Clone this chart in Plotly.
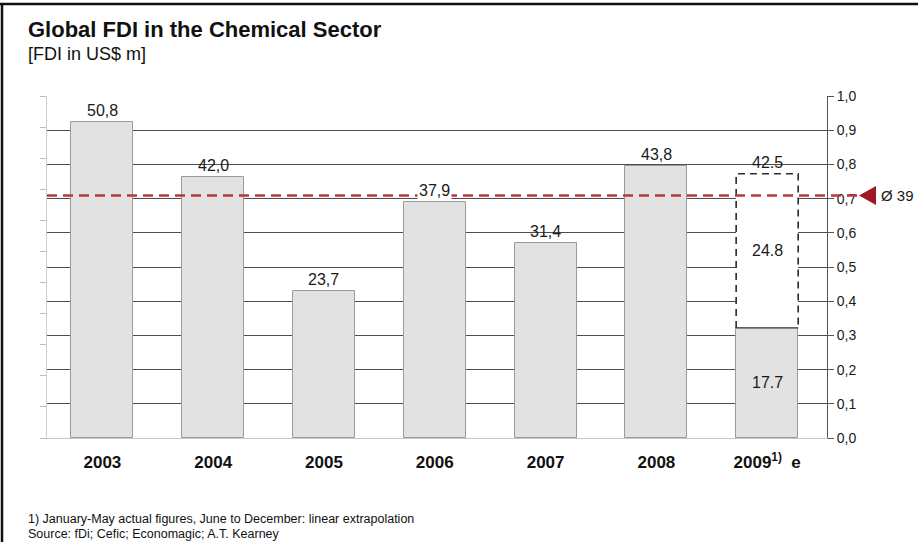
import plotly.graph_objects as go

# ---- data -------------------------------------------------------------
YEARS = ["2003", "2004", "2005", "2006", "2007", "2008", "2009"]
YEAR_LABELS = ["<b>2003</b>", "<b>2004</b>", "<b>2005</b>", "<b>2006</b>",
               "<b>2007</b>", "<b>2008</b>", "<b>2009<sup>1)</sup>  e</b>"]
FDI_ACTUAL = [50.8, 42.0, 23.7, 37.9, 31.4, 43.8, 17.7]
FDI_TEXT = ["50,8", "42,0", "23,7", "37,9", "31,4", "43,8", "17.7"]
EXTRAPOLATED_2009 = 24.8
TOTAL_2009 = 42.5
TOTAL_2009_TEXT = "42.5"
EXTRAPOLATED_2009_TEXT = "24.8"
AVERAGE = 39
AVERAGE_TEXT = "Ø 39"
SCALE_MAX = 55.0
RIGHT_TICKS = [0.0, 0.1, 0.2, 0.3, 0.4, 0.5, 0.6, 0.7, 0.8, 0.9, 1.0]
RIGHT_TICK_TEXT = ["0,0", "0,1", "0,2", "0,3", "0,4", "0,5",
                   "0,6", "0,7", "0,8", "0,9", "1,0"]

# ---- layout geometry (pixels) ----------------------------------------
W, H = 918, 542
PL, PR, PT, PB = 47, 827, 96, 438
BAR_W = 0.56
FONT = "Liberation Sans, Arial, sans-serif"


def px_x(p):
    return (p - PL) / (PR - PL)


def px_y(p):
    return (PB - p) / (PB - PT)


fig = go.Figure()

# actual values
fig.add_trace(go.Bar(
    x=YEARS, y=FDI_ACTUAL, width=BAR_W,
    marker=dict(color="#e2e2e2", line=dict(color="#9a9a9a", width=1)),
    hoverinfo="skip", showlegend=False, yaxis="y",
))
# extrapolated part of 2009 (white fill, dashed outline drawn as a shape)
fig.add_trace(go.Bar(
    x=[YEARS[-1]], y=[EXTRAPOLATED_2009], base=[FDI_ACTUAL[-1]], width=BAR_W,
    marker=dict(color="white", line=dict(width=0)),
    hoverinfo="skip", showlegend=False, yaxis="y",
))
# carrier trace for the left tick axis
fig.add_trace(go.Scatter(
    x=YEARS, y=FDI_ACTUAL, mode="none", hoverinfo="skip",
    showlegend=False, yaxis="y2",
))

shapes = []
i9 = len(YEARS) - 1
# dashed outline of extrapolated segment
shapes.append(dict(
    type="path", xref="x", yref="y", layer="above",
    path=(f"M {i9 - BAR_W / 2} {FDI_ACTUAL[-1]} L {i9 - BAR_W / 2} {TOTAL_2009} "
          f"L {i9 + BAR_W / 2} {TOTAL_2009} L {i9 + BAR_W / 2} {FDI_ACTUAL[-1]}"),
    line=dict(color="#2b2b2b", width=1.6, dash="7px,5px"),
))
shapes.append(dict(
    type="line", xref="x", yref="y", layer="above",
    x0=i9 - BAR_W / 2, x1=i9 + BAR_W / 2, y0=FDI_ACTUAL[-1], y1=FDI_ACTUAL[-1],
    line=dict(color="#2b2b2b", width=1.3),
))
# average line and marker
shapes.append(dict(
    type="line", xref="paper", yref="y", layer="above",
    x0=0, x1=px_x(858), y0=AVERAGE, y1=AVERAGE,
    line=dict(color="#b8393b", width=2.5, dash="10px,6px"),
))
half_h = 9.5 / (PB - PT) * SCALE_MAX
shapes.append(dict(
    type="path", xref="paper", yref="y", layer="above",
    path=(f"M {px_x(859)} {AVERAGE} L {px_x(876)} {AVERAGE + half_h} "
          f"L {px_x(876)} {AVERAGE - half_h} Z"),
    fillcolor="#9e1a22", line=dict(width=0),
))
# page frame (top and left edges)
shapes.append(dict(type="line", xref="paper", yref="paper",
                   x0=px_x(0), x1=px_x(W), y0=px_y(4), y1=px_y(4),
                   line=dict(color="#111", width=2.5)))
shapes.append(dict(type="line", xref="paper", yref="paper",
                   x0=px_x(2), x1=px_x(2), y0=px_y(4), y1=px_y(H),
                   line=dict(color="#111", width=2.5)))

annotations = []
VAL_FONT = dict(size=16, color="#1a1a1a", family=FONT)
# value labels above bars (category positions given by index)
for i, (v, t) in enumerate(zip(FDI_ACTUAL[:-1], FDI_TEXT[:-1])):
    ann = dict(x=i, y=v, xref="x", yref="y", text=t, showarrow=False,
               yanchor="bottom", yshift=1, font=VAL_FONT)
    if abs(v - AVERAGE) < 3:
        ann["bgcolor"] = "white"
    annotations.append(ann)
annotations.append(dict(
    x=i9, y=TOTAL_2009, xref="x", yref="y", text=TOTAL_2009_TEXT,
    showarrow=False, yanchor="bottom", yshift=1, font=VAL_FONT,
))
annotations.append(dict(
    x=i9, y=FDI_ACTUAL[-1] + EXTRAPOLATED_2009 / 2, xref="x", yref="y",
    text=EXTRAPOLATED_2009_TEXT, showarrow=False, yanchor="middle", font=VAL_FONT,
))
annotations.append(dict(
    x=i9, y=FDI_ACTUAL[-1] / 2, xref="x", yref="y",
    text=FDI_TEXT[-1], showarrow=False, yanchor="middle", font=VAL_FONT,
))
# average label
annotations.append(dict(
    x=px_x(879), y=AVERAGE, xref="paper", yref="y", text=AVERAGE_TEXT,
    showarrow=False, xanchor="left", yanchor="middle",
    font=dict(size=15, color="#1a1a1a", family=FONT),
))
# headings
annotations.append(dict(
    x=px_x(26), y=px_y(29), xref="paper", yref="paper",
    text="<b>Global FDI in the Chemical Sector</b>", showarrow=False,
    xanchor="left", yanchor="middle",
    font=dict(size=22, color="#111", family=FONT),
))
annotations.append(dict(
    x=px_x(26), y=px_y(54), xref="paper", yref="paper",
    text="[FDI in US$ m]", showarrow=False, xanchor="left", yanchor="middle",
    font=dict(size=18, color="#111", family=FONT),
))
# footnotes
annotations.append(dict(
    x=px_x(26), y=px_y(518.5), xref="paper", yref="paper",
    text="1) January-May actual figures, June to December: linear extrapolation",
    showarrow=False, xanchor="left", yanchor="middle",
    font=dict(size=12.5, color="#111", family=FONT),
))
annotations.append(dict(
    x=px_x(26), y=px_y(534), xref="paper", yref="paper",
    text="Source: fDi; Cefic; Economagic; A.T. Kearney",
    showarrow=False, xanchor="left", yanchor="middle",
    font=dict(size=12.5, color="#111", family=FONT),
))

fig.update_layout(
    width=W, height=H,
    margin=dict(l=PL, r=W - PR, t=PT, b=H - PB, pad=0),
    paper_bgcolor="white", plot_bgcolor="white",
    font=dict(family=FONT, color="#1a1a1a"),
    barmode="overlay", bargap=0,
    xaxis=dict(
        type="category", categoryorder="array", categoryarray=YEARS,
        range=[-0.5, 6.54], tickmode="array", tickvals=YEARS, ticktext=YEAR_LABELS,
        ticks="", showgrid=False, zeroline=False,
        showline=True, linecolor="#c8c8c8", linewidth=1,
        tickfont=dict(size=17, color="#111", family=FONT),
        ticklabelstandoff=9,
    ),
    yaxis=dict(
        side="right", range=[0, SCALE_MAX],
        tickmode="array", tickvals=[t * SCALE_MAX for t in RIGHT_TICKS],
        ticktext=RIGHT_TICK_TEXT, tickfont=dict(size=14, color="#1a1a1a", family=FONT),
        ticks="outside", ticklen=6, tickcolor="#555", tickwidth=1,
        showline=True, linecolor="#555", linewidth=1,
        showgrid=True, gridcolor="#4d4d4d", gridwidth=1, zeroline=False,
    ),
    yaxis2=dict(
        overlaying="y", side="left", range=[0, SCALE_MAX], dtick=5, tick0=0,
        showticklabels=False, ticks="outside", ticklen=6, tickcolor="#bdbdbd",
        showline=True, linecolor="#cfcfcf", linewidth=1,
        showgrid=False, zeroline=False,
    ),
    shapes=shapes, annotations=annotations,
)

fig.write_html("out.html")
